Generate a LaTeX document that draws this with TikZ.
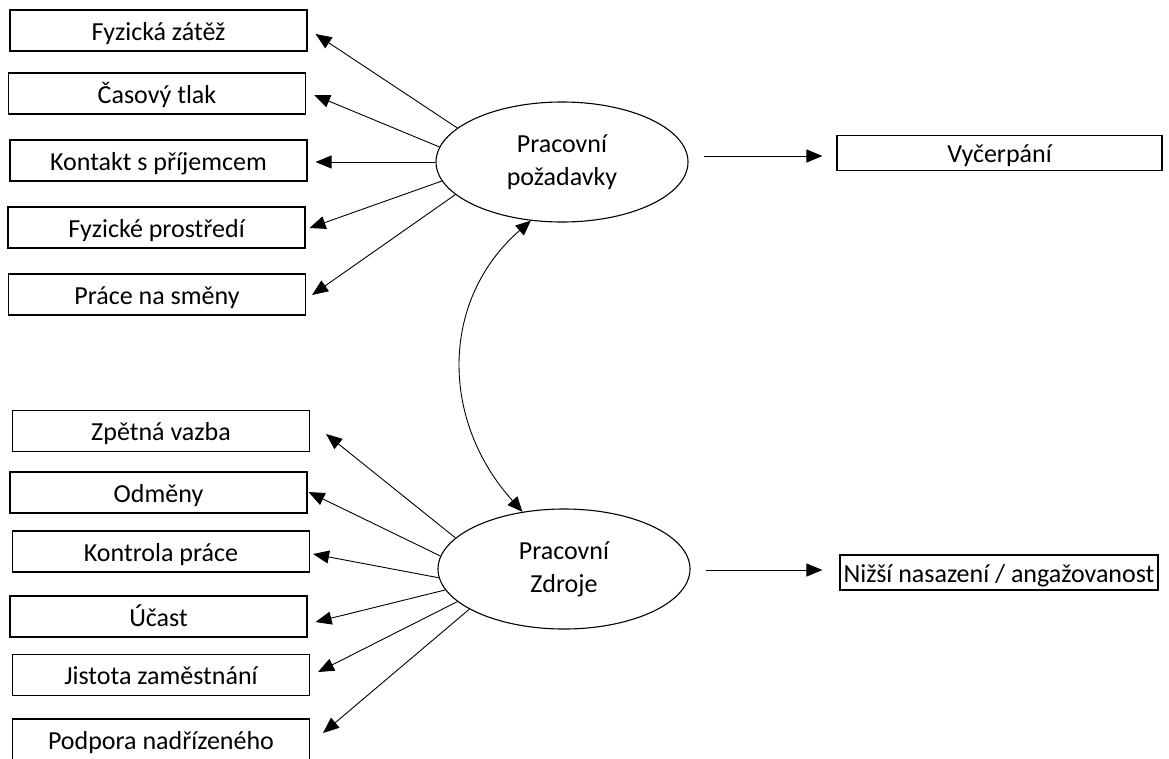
\documentclass[tikz,border=0pt]{standalone}
\usepackage{fontspec}
\setmainfont{Carlito}
\usetikzlibrary{arrows.meta,shapes.geometric,calc}
\begin{document}
\begin{tikzpicture}[x=1pt,y=-1pt,
  box/.style={draw, line width=1.1pt, minimum width=297pt, minimum height=41pt,
    inner sep=0pt, text height=25pt, text depth=6pt,
    font=\fontsize{26}{31}\selectfont},
  outbox/.style={draw, line width=1.1pt, minimum height=35pt, inner sep=1pt,
    text height=25pt, text depth=6pt, font=\fontsize{26}{31}\selectfont},
  factor/.style={draw, ellipse, line width=1.1pt, minimum width=252pt,
    minimum height=120pt, inner sep=0pt, align=center,
    font=\fontsize{26}{33}\selectfont},
  arr/.style={line width=0.9pt, -{Triangle[length=16pt,width=13pt]}},
  link/.style={line width=0.9pt, {Triangle[length=15pt,width=13pt]}-{Triangle[length=15pt,width=13pt]}},
]
\useasboundingbox (0,0) rectangle (1169,758);

% job demands
\node[factor] (pd) at (562,162) {Pracovní\\požadavky};
\node[box] (fz) at (158.5,30.5) {Fyzická zátěž};
\node[box] (ct) at (157,93.5) {Časový tlak};
\node[box] (kp) at (158.5,160.5) {Kontakt s příjemcem};
\node[box] (fp) at (156.5,227.5) {Fyzické prostředí};
\node[box] (ps) at (157,294.5) {Práce na směny};
\node[outbox, minimum width=325pt] (vy) at (999.5,153) {Vyčerpání};

% job resources
\node[factor] (zr) at (564,569) {Pracovní\\Zdroje};
\node[box] (zv) at (161,431) {Zpětná vazba};
\node[box] (od) at (158.5,492.5) {Odměny};
\node[box] (kc) at (161,551.5) {Kontrola práce};
\node[box] (uc) at (158.5,616.5) {Účast};
\node[box] (jz) at (161,675) {Jistota zaměstnání};
\node[box] (pn) at (161,739.5) {Podpora nadřízeného};
\node[outbox, minimum width=318pt] (nz) at (999,572.5) {Nižší nasazení / angažovanost};

% demands -> indicators
\draw[arr] (pd.162) -- ([xshift=8pt,yshift=-3.5pt]fz.east);
\draw[arr] (pd.173) -- ([xshift=8pt,yshift=-1.5pt]ct.east);
\draw[arr] (pd.180.5) -- ([xshift=8pt,yshift=-1.5pt]kp.east);
\draw[arr] (pd.189) -- ([xshift=4pt,yshift=-0.5pt]fp.east);
\draw[arr] (pd.197) -- ([xshift=6pt,yshift=-0.5pt]ps.east);

% resources -> indicators
\draw[arr] (zr.164.5) -- ([xshift=16pt,yshift=-3pt]zv.east);
\draw[arr] (zr.174) -- ([xshift=1pt,yshift=0.5pt]od.east);
\draw[arr] (zr.184.5) -- ([xshift=3pt,yshift=-2.5pt]kc.east);
\draw[arr] (zr.190.5) -- ([xshift=8pt,yshift=-5.5pt]uc.east);
\draw[arr] (zr.197.5) -- ([xshift=8pt,yshift=3pt]jz.east);
\draw[arr] (zr.203) -- ([xshift=13pt,yshift=6.5pt]pn.east);

% outcomes
\coordinate (a1) at ([xshift=15pt,yshift=6pt]pd.east);
\draw[arr] (a1) -- ([xshift=-14pt]vy.west |- a1);
\coordinate (a2) at ([xshift=15pt,yshift=-1pt]zr.east);
\draw[arr] (a2) -- ([xshift=-17pt]nz.west |- a2);

% correlation between demands and resources
\draw[link] (pd.242) .. controls (440,300) and (440,420) .. (zr.126);
\end{tikzpicture}
\end{document}
